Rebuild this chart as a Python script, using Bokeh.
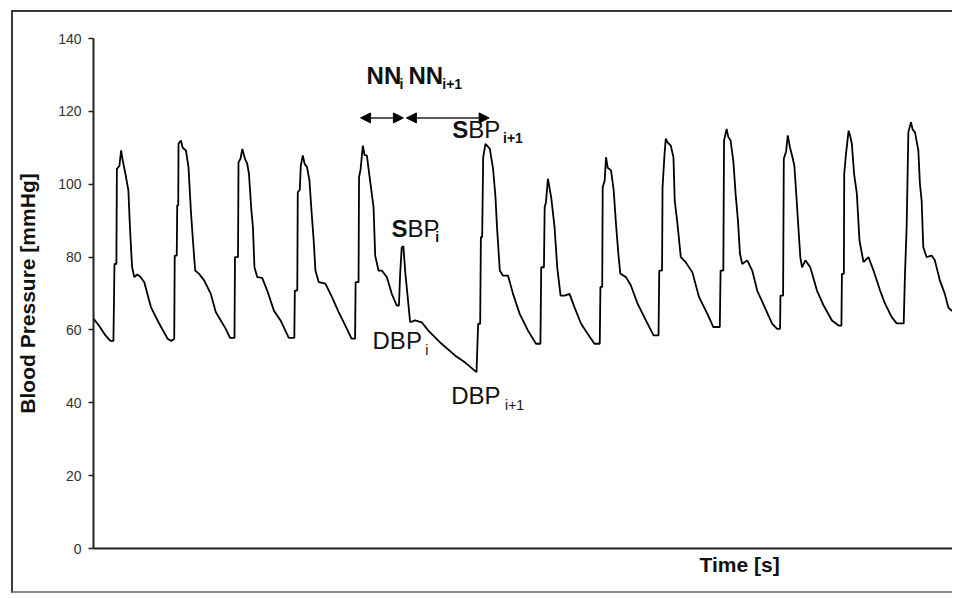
from bokeh.plotting import figure
from bokeh.models import Range1d, FixedTicker, Label, Arrow, NormalHead, Title
from bokeh.embed import file_html
from bokeh.resources import INLINE

# ---- data (time in s, blood pressure in mmHg) ----
time_s = [
    0.000, 0.083, 0.167, 0.236, 0.278, 0.292, 0.319, 0.326, 0.361, 0.385, 0.403, 0.454, 0.486, 0.510,
    0.538, 0.569, 0.611, 0.653, 0.708, 0.801, 0.917, 1.032, 1.083,
    1.125, 1.132, 1.160, 1.167, 1.181, 1.185, 1.218, 1.243, 1.288, 1.324, 1.357, 1.379, 1.417, 1.472,
    1.542, 1.635, 1.704, 1.843, 1.903, 1.965,
    1.972, 2.014, 2.021, 2.049, 2.074, 2.111, 2.143, 2.167, 2.199, 2.222, 2.243, 2.282, 2.351, 2.421,
    2.514, 2.607, 2.722, 2.799,
    2.806, 2.840, 2.847, 2.875, 2.889, 2.917, 2.944, 2.976, 3.010, 3.038, 3.069, 3.093, 3.139, 3.232,
    3.324, 3.417, 3.510, 3.597, 3.646,
    3.653, 3.694, 3.701, 3.722, 3.754, 3.778, 3.810, 3.843, 3.903, 3.926, 3.972, 4.018, 4.088, 4.157,
    4.226,
    4.257, 4.274, 4.296, 4.319, 4.343, 4.379, 4.413, 4.482, 4.574, 4.667, 4.851, 5.038, 5.176, 5.338,
    5.361, 5.389, 5.399, 5.417, 5.431, 5.463, 5.524, 5.569, 5.601, 5.625, 5.663, 5.708, 5.778, 5.847,
    5.940, 6.056, 6.167, 6.229,
    6.240, 6.278, 6.288, 6.306, 6.333, 6.379, 6.426, 6.463, 6.510, 6.565, 6.635, 6.704, 6.796, 6.889,
    6.982, 7.056,
    7.065, 7.090, 7.097, 7.125, 7.143, 7.167, 7.213, 7.250, 7.282, 7.315, 7.343, 7.421, 7.490, 7.583,
    7.699, 7.806, 7.875,
    7.885, 7.924, 7.931, 7.958, 7.976, 8.000, 8.046, 8.083, 8.101, 8.139, 8.185, 8.254, 8.347, 8.440,
    8.556, 8.639, 8.729,
    8.740, 8.778, 8.788, 8.824, 8.847, 8.879, 8.917, 8.949, 8.982, 9.010, 9.042, 9.111, 9.181, 9.250,
    9.365, 9.458, 9.528, 9.569,
    9.574, 9.611, 9.621, 9.653, 9.676, 9.708, 9.736, 9.768, 9.796, 9.815, 9.851, 9.875, 9.921, 9.990,
    10.083, 10.176, 10.292, 10.385, 10.424,
    10.431, 10.458, 10.463, 10.486, 10.524, 10.549, 10.569, 10.601, 10.639, 10.676, 10.732, 10.801,
    10.871, 10.963, 11.032, 11.125, 11.194, 11.292,
    11.310, 11.333, 11.357, 11.393, 11.417, 11.449, 11.496, 11.518, 11.542, 11.565, 11.611, 11.681,
    11.726, 11.796, 11.865, 11.913, 11.958, 12.014,
]
pressure = [
    63.1, 61.0, 58.5, 57.0, 57.0, 78.1, 78.1, 104.2, 105.0, 109.3, 107.0, 101.9, 98.3, 87.3,
    77.2, 74.5, 75.2, 74.6, 73.1, 66.2, 61.7, 57.6, 57.0,
    57.5, 80.4, 80.4, 94.2, 94.2, 111.1, 112.0, 110.0, 109.3, 104.7, 92.8, 86.4, 76.3, 75.4,
    73.6, 69.9, 64.9, 60.3, 57.8, 57.8,
    80.0, 80.0, 106.0, 107.0, 109.7, 107.0, 105.6, 102.8, 93.2, 88.2, 77.2, 74.5, 74.3, 70.8,
    65.3, 62.6, 57.8, 57.8,
    70.8, 70.8, 97.8, 98.5, 105.0, 107.9, 105.5, 104.7, 101.0, 92.8, 84.5, 76.3, 73.1, 72.7,
    69.0, 64.9, 61.2, 57.6, 57.6,
    73.1, 73.1, 101.9, 104.0, 110.6, 108.0, 107.9, 102.8, 93.7, 80.4, 76.3, 76.3, 74.5, 69.9,
    66.7,
    66.7, 75.4, 82.7, 83.0, 76.3, 69.0, 62.1, 62.6, 62.1, 59.8, 56.2, 53.0, 51.1, 48.4,
    61.7, 61.7, 85.5, 85.5, 107.4, 111.1, 109.7, 104.2, 96.9, 87.8, 76.3, 74.9, 74.9, 69.9,
    64.4, 59.8, 56.2, 56.2,
    77.2, 77.2, 93.7, 95.0, 101.5, 96.4, 88.2, 77.2, 69.4, 69.4, 69.9, 66.2, 61.7, 58.9,
    56.2, 56.2,
    71.8, 71.8, 99.2, 101.0, 107.4, 104.5, 103.8, 98.3, 89.1, 80.9, 75.4, 74.5, 72.2, 67.2,
    62.6, 58.5, 58.5,
    76.3, 76.3, 99.2, 108.0, 112.5, 111.5, 110.6, 107.4, 95.5, 89.1, 80.0, 78.6, 75.8, 69.0,
    64.4, 60.8, 60.8,
    76.3, 76.3, 112.0, 115.2, 113.0, 112.0, 106.5, 97.4, 90.0, 80.9, 78.1, 79.1, 76.3, 70.8,
    65.8, 61.7, 60.3, 60.3,
    69.4, 69.4, 107.0, 109.0, 113.4, 110.0, 107.9, 105.1, 96.9, 91.0, 80.0, 77.2, 79.1, 77.2,
    70.8, 66.7, 62.6, 61.2, 61.2,
    75.4, 75.4, 102.8, 108.0, 114.7, 113.0, 111.1, 102.8, 97.4, 84.5, 78.6, 80.0,
    76.3, 70.8, 67.2, 63.5, 61.8, 61.8,
    75.4, 88.2, 114.3, 117.0, 115.0, 114.3, 109.3, 100.1, 95.5, 82.7, 80.0, 80.4,
    79.1, 73.6, 69.9, 66.2, 65.3, 65.3,
]

y_ticks = [0, 20, 40, 60, 80, 100, 120, 140]

# annotation texts: (main, subscript, x, y, sub x, sub y)
nn_labels = [("NN", "i", 3.806, 129.8, 4.264, 127.4),
             ("NN", "i+1", 4.389, 129.8, 4.861, 127.4)]
nn_arrows = [(3.722, 4.319, 118.2), (4.361, 5.514, 118.2)]
sbp_labels = [("i", 4.153, 87.8, 4.764, 85.4),
              ("i+1", 5.000, 115.0, 5.708, 112.8)]
dbp_labels = [("i", 3.889, 57.1, 4.625, 54.4),
              ("i+1", 4.986, 42.0, 5.736, 39.3)]

FONT = "Liberation Sans"
FRAME = "2px solid #3a3a3a"

p = figure(width=941, height=583, output_backend="svg", toolbar_location=None,
           x_range=Range1d(0, 12.0), y_range=Range1d(0, 140),
           min_border_left=76, min_border_right=0, min_border_top=26, min_border_bottom=47,
           styles={"margin-left": "11px", "margin-top": "10px",
                   "border-left": FRAME, "border-top": FRAME, "border-bottom": "2px solid #8a8a8a"})
p.outline_line_color = None
p.grid.visible = False
p.background_fill_color = "white"
p.border_fill_color = "white"

p.line(time_s, pressure, line_color="black", line_width=1.8)

# y axis
ya = p.yaxis[0]
ya.ticker = FixedTicker(ticks=y_ticks)
ya.minor_tick_line_color = None
ya.major_tick_out = 5
ya.major_tick_in = 0
ya.major_tick_line_color = "#222222"
ya.major_tick_line_width = 1.5
ya.axis_line_color = "#222222"
ya.axis_line_width = 2
ya.major_label_text_font = FONT
ya.major_label_text_font_size = "14px"
ya.major_label_text_color = "#333333"
ya.major_label_standoff = 7
ya.axis_label = "Blood Pressure [mmHg]"
ya.axis_label_text_font = FONT
ya.axis_label_text_font_size = "21px"
ya.axis_label_text_font_style = "bold"
ya.axis_label_text_color = "#111111"
ya.axis_label_standoff = 16

# x axis (no ticks)
xa = p.xaxis[0]
xa.ticker = FixedTicker(ticks=[])
xa.major_tick_line_color = None
xa.minor_tick_line_color = None
xa.axis_line_color = "#222222"
xa.axis_line_width = 2
xa.major_label_text_font_size = "0px"

p.add_layout(Title(text="Time [s]", align="left", offset=606, text_font=FONT,
                   text_font_size="21px", text_font_style="bold", text_color="#111111",
                   standoff=4), "below")

MAIN = "24px"
SUB = "14px"
for main, sub, x, y, sx, sy in nn_labels:
    p.add_layout(Label(x=x, y=y, text=main, text_font=FONT, text_font_size=MAIN,
                       text_font_style="bold", text_baseline="middle", text_color="#111111"))
    p.add_layout(Label(x=sx, y=sy, text=sub, text_font=FONT, text_font_size=SUB,
                       text_font_style="bold", text_baseline="middle", text_color="#111111"))

for x0, x1, y in nn_arrows:
    p.add_layout(Arrow(x_start=x0, x_end=x1, y_start=y, y_end=y,
                       start=NormalHead(size=10, fill_color="black", line_color="black"),
                       end=NormalHead(size=10, fill_color="black", line_color="black"),
                       line_color="#222222", line_width=1.5))

for sub, x, y, sx, sy in sbp_labels:
    p.add_layout(Label(x=x, y=y, text="S", text_font=FONT, text_font_size=MAIN,
                       text_font_style="bold", text_baseline="middle", text_color="#111111"))
    p.add_layout(Label(x=x, y=y, x_offset=16, text="BP", text_font=FONT, text_font_size=MAIN,
                       text_baseline="middle", text_color="#111111"))
    p.add_layout(Label(x=sx, y=sy, text=sub, text_font=FONT, text_font_size=SUB,
                       text_font_style="bold", text_baseline="middle", text_color="#111111"))

for sub, x, y, sx, sy in dbp_labels:
    p.add_layout(Label(x=x, y=y, text="DBP", text_font=FONT, text_font_size=MAIN,
                       text_baseline="middle", text_color="#111111"))
    p.add_layout(Label(x=sx, y=sy, text=sub, text_font=FONT, text_font_size=SUB,
                       text_baseline="middle", text_color="#111111"))

open("out.html", "w").write(file_html(p, INLINE))
